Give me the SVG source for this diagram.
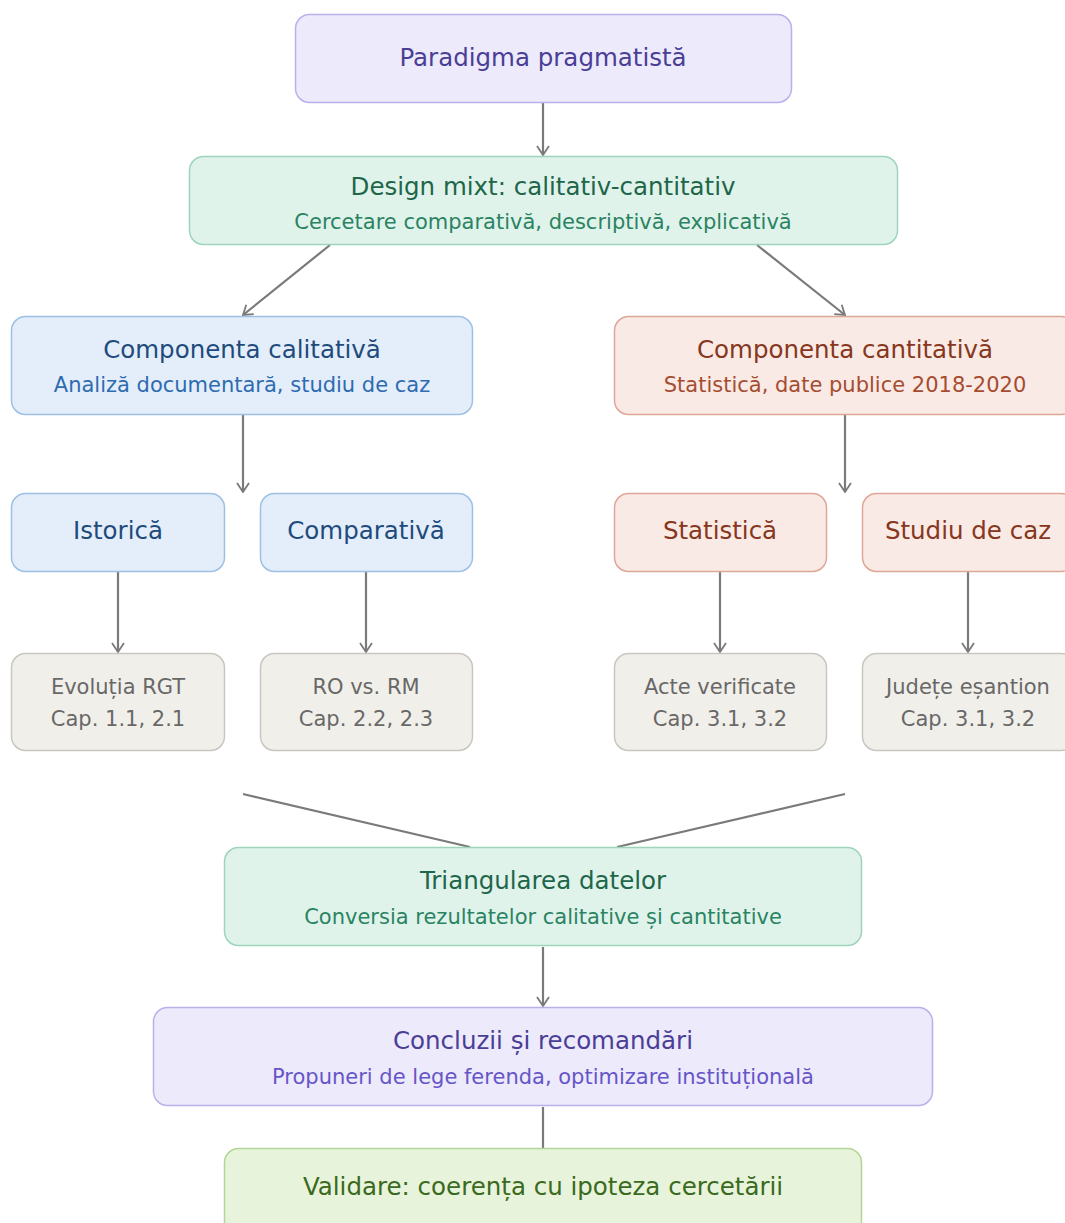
<svg xmlns="http://www.w3.org/2000/svg" width="1065" height="1223" viewBox="0 0 1065 1223">
<defs>
<marker id="arr" viewBox="0 0 12 14" refX="11" refY="7" markerWidth="12" markerHeight="14" markerUnits="userSpaceOnUse" orient="auto">
<path d="M2,1 L11,7 L2,13" fill="none" stroke="#7a7a7a" stroke-width="1.8"/>
</marker>
<style>
text{font-family:"DejaVu Sans","Liberation Sans",sans-serif;text-anchor:middle}
.t{font-size:24.5px}
.s{font-size:21px}
.edge{stroke:#7a7a7a;stroke-width:2.2;fill:none}
.purple rect{fill:#ECEAFB;stroke:#B9B1EC;stroke-width:1.5}
.purple .t{fill:#4A3E96}.purple .s{fill:#6655C8}
.green rect{fill:#E0F3EB;stroke:#9ED3BC;stroke-width:1.5}
.green .t{fill:#1E6649}.green .s{fill:#2A8362}
.blue rect{fill:#E3EEFA;stroke:#9DC0E5;stroke-width:1.5}
.blue .t{fill:#1E4B7C}.blue .s{fill:#2E6BB0}
.red rect{fill:#F9EAE5;stroke:#DFA697;stroke-width:1.5}
.red .t{fill:#873620}.red .s{fill:#A64C30}
.gray rect{fill:#F1EFEA;stroke:#C9C6BF;stroke-width:1.5}
.gray text{fill:#686868;font-size:21px}
.lime rect{fill:#E8F3DB;stroke:#B3D597;stroke-width:1.5}
.lime .t{fill:#3A6A1C}
</style>
</defs>
<g id="connectors">
<line class="edge" x1="543" y1="103" x2="543" y2="155" marker-end="url(#arr)"/>
<line class="edge" x1="330" y1="245" x2="243" y2="315" marker-end="url(#arr)"/>
<line class="edge" x1="757" y1="245" x2="845" y2="315" marker-end="url(#arr)"/>
<line class="edge" x1="243" y1="415" x2="243" y2="492" marker-end="url(#arr)"/>
<line class="edge" x1="845" y1="415" x2="845" y2="492" marker-end="url(#arr)"/>
<line class="edge" x1="118" y1="572" x2="118" y2="652" marker-end="url(#arr)"/>
<line class="edge" x1="366" y1="572" x2="366" y2="652" marker-end="url(#arr)"/>
<line class="edge" x1="720" y1="572" x2="720" y2="652" marker-end="url(#arr)"/>
<line class="edge" x1="968" y1="572" x2="968" y2="652" marker-end="url(#arr)"/>
<line class="edge" x1="243" y1="794" x2="470" y2="847"/>
<line class="edge" x1="845" y1="794" x2="617" y2="847"/>
<line class="edge" x1="543" y1="947" x2="543" y2="1006" marker-end="url(#arr)"/>
<line class="edge" x1="543" y1="1107" x2="543" y2="1148"/>
</g>
<g id="paradigma" class="purple">
<rect x="295.5" y="14.5" width="496" height="88" rx="14"/>
<text class="t" x="543" y="66">Paradigma pragmatistă</text>
</g>
<g id="design" class="green">
<rect x="189.5" y="156.5" width="708" height="88" rx="14"/>
<text class="t" x="543" y="195">Design mixt: calitativ-cantitativ</text>
<text class="s" x="543" y="229">Cercetare comparativă, descriptivă, explicativă</text>
</g>
<g id="calitativa" class="blue">
<rect x="11.5" y="316.5" width="461" height="98" rx="14"/>
<text class="t" x="242" y="358">Componenta calitativă</text>
<text class="s" x="242" y="392">Analiză documentară, studiu de caz</text>
</g>
<g id="cantitativa" class="red">
<rect x="614.5" y="316.5" width="461" height="98" rx="14"/>
<text class="t" x="845" y="358">Componenta cantitativă</text>
<text class="s" x="845" y="392">Statistică, date publice 2018-2020</text>
</g>
<g id="istorica" class="blue">
<rect x="11.5" y="493.5" width="213" height="78" rx="14"/>
<text class="t" x="118" y="539">Istorică</text>
</g>
<g id="comparativa" class="blue">
<rect x="260.5" y="493.5" width="212" height="78" rx="14"/>
<text class="t" x="366" y="539">Comparativă</text>
</g>
<g id="statistica" class="red">
<rect x="614.5" y="493.5" width="212" height="78" rx="14"/>
<text class="t" x="720" y="539">Statistică</text>
</g>
<g id="studiu" class="red">
<rect x="862.5" y="493.5" width="213" height="78" rx="14"/>
<text class="t" x="968" y="539">Studiu de caz</text>
</g>
<g id="evolutia" class="gray">
<rect x="11.5" y="653.5" width="213" height="97" rx="14"/>
<text x="118" y="694">Evoluția RGT</text>
<text x="118" y="726">Cap. 1.1, 2.1</text>
</g>
<g id="rovsrm" class="gray">
<rect x="260.5" y="653.5" width="212" height="97" rx="14"/>
<text x="366" y="694">RO vs. RM</text>
<text x="366" y="726">Cap. 2.2, 2.3</text>
</g>
<g id="acte" class="gray">
<rect x="614.5" y="653.5" width="212" height="97" rx="14"/>
<text x="720" y="694">Acte verificate</text>
<text x="720" y="726">Cap. 3.1, 3.2</text>
</g>
<g id="judete" class="gray">
<rect x="862.5" y="653.5" width="213" height="97" rx="14"/>
<text x="968" y="694">Județe eșantion</text>
<text x="968" y="726">Cap. 3.1, 3.2</text>
</g>
<g id="triangulare" class="green">
<rect x="224.5" y="847.5" width="637" height="98" rx="14"/>
<text class="t" x="543" y="889">Triangularea datelor</text>
<text class="s" x="543" y="924">Conversia rezultatelor calitative și cantitative</text>
</g>
<g id="concluzii" class="purple">
<rect x="153.5" y="1007.5" width="779" height="98" rx="14"/>
<text class="t" x="543" y="1049">Concluzii și recomandări</text>
<text class="s" x="543" y="1084">Propuneri de lege ferenda, optimizare instituțională</text>
</g>
<g id="validare" class="lime">
<rect x="224.5" y="1148.5" width="637" height="90" rx="14"/>
<text class="t" x="543" y="1195">Validare: coerența cu ipoteza cercetării</text>
</g>
</svg>
